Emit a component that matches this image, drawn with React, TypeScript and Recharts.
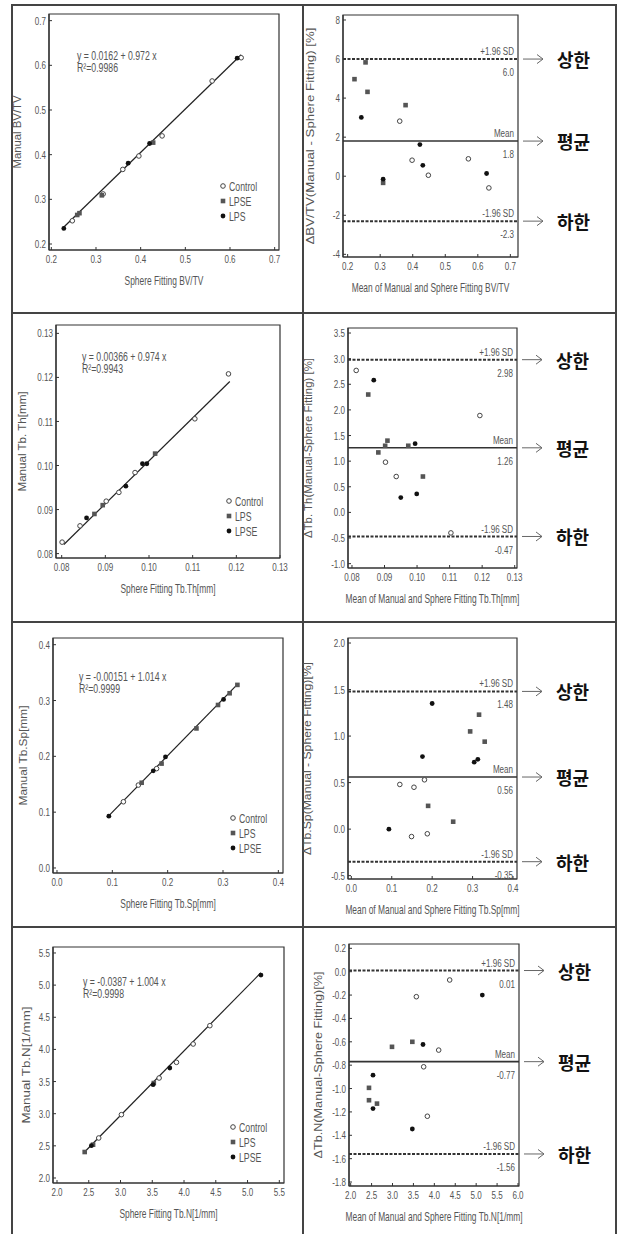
import React from 'react';
import { ScatterChart, Scatter, XAxis, YAxis, ReferenceLine, ReferenceArea, Label } from 'recharts';

type Pt = { x: number; y: number };
type Kind = 'open' | 'square' | 'dot';

const FONT = '"Liberation Sans", Arial, sans-serif';
const KFONT = '"Noto Sans CJK KR", "Noto Sans", sans-serif';
const NARROW = 0.7; // the source figure is squeezed sideways, text looks condensed
const INK = '#333';
const GREY = '#555';

// ---- BV/TV : manual vs sphere fitting
const bvtvControl: Pt[] = [
  { x: 0.247, y: 0.252 }, { x: 0.316, y: 0.312 }, { x: 0.360, y: 0.367 }, { x: 0.396, y: 0.397 },
  { x: 0.448, y: 0.442 }, { x: 0.560, y: 0.565 }, { x: 0.625, y: 0.617 },
];
const bvtvLpse: Pt[] = [{ x: 0.258, y: 0.265 }, { x: 0.263, y: 0.269 }, { x: 0.313, y: 0.309 }, { x: 0.428, y: 0.427 }];
const bvtvLps: Pt[] = [{ x: 0.228, y: 0.235 }, { x: 0.372, y: 0.381 }, { x: 0.420, y: 0.425 }, { x: 0.616, y: 0.616 }];
// Bland-Altman BV/TV
const bvtvDiffControl: Pt[] = [
  { x: 0.360, y: 2.82 }, { x: 0.398, y: 0.82 }, { x: 0.448, y: 0.05 }, { x: 0.571, y: 0.89 }, { x: 0.634, y: -0.6 },
];
const bvtvDiffLpse: Pt[] = [
  { x: 0.221, y: 4.97 }, { x: 0.255, y: 5.83 }, { x: 0.261, y: 4.32 }, { x: 0.378, y: 3.64 }, { x: 0.309, y: -0.34 },
];
const bvtvDiffLps: Pt[] = [
  { x: 0.242, y: 3.01 }, { x: 0.422, y: 1.62 }, { x: 0.431, y: 0.56 }, { x: 0.627, y: 0.14 }, { x: 0.309, y: -0.15 },
];

// ---- Tb.Th
const thControl: Pt[] = [
  { x: 0.0801, y: 0.0826 }, { x: 0.0842, y: 0.0863 }, { x: 0.0902, y: 0.0919 }, { x: 0.0931, y: 0.0939 },
  { x: 0.0968, y: 0.0984 }, { x: 0.1105, y: 0.1106 }, { x: 0.1182, y: 0.1208 },
];
const thLps: Pt[] = [{ x: 0.0875, y: 0.089 }, { x: 0.0894, y: 0.091 }, { x: 0.1014, y: 0.1027 }];
const thLpse: Pt[] = [{ x: 0.0857, y: 0.0881 }, { x: 0.0947, y: 0.0953 }, { x: 0.0985, y: 0.1004 }, { x: 0.0995, y: 0.1004 }];
const thDiffControl: Pt[] = [
  { x: 0.0813, y: 2.77 }, { x: 0.1193, y: 1.89 }, { x: 0.0903, y: 0.98 }, { x: 0.0936, y: 0.7 }, { x: 0.1104, y: -0.4 },
];
const thDiffLps: Pt[] = [
  { x: 0.085, y: 2.3 }, { x: 0.0881, y: 1.17 }, { x: 0.0902, y: 1.3 }, { x: 0.0909, y: 1.4 }, { x: 0.0973, y: 1.3 },
  { x: 0.1018, y: 0.7 },
];
const thDiffLpse: Pt[] = [{ x: 0.0867, y: 2.58 }, { x: 0.0994, y: 1.34 }, { x: 0.095, y: 0.29 }, { x: 0.0999, y: 0.36 }];

// ---- Tb.Sp
const spControl: Pt[] = [{ x: 0.12, y: 0.1186 }, { x: 0.147, y: 0.1485 }, { x: 0.18, y: 0.178 }];
const spLps: Pt[] = [
  { x: 0.153, y: 0.1527 }, { x: 0.189, y: 0.187 }, { x: 0.252, y: 0.25 }, { x: 0.291, y: 0.292 },
  { x: 0.312, y: 0.313 }, { x: 0.326, y: 0.328 },
];
const spLpse: Pt[] = [{ x: 0.0937, y: 0.0928 }, { x: 0.174, y: 0.174 }, { x: 0.196, y: 0.199 }, { x: 0.301, y: 0.302 }];
const spDiffControl: Pt[] = [
  { x: 0.12, y: 0.48 }, { x: 0.155, y: 0.45 }, { x: 0.181, y: 0.53 }, { x: 0.149, y: -0.08 }, { x: 0.188, y: -0.05 },
];
const spDiffLps: Pt[] = [
  { x: 0.316, y: 1.23 }, { x: 0.294, y: 1.05 }, { x: 0.33, y: 0.94 }, { x: 0.19, y: 0.25 }, { x: 0.252, y: 0.08 },
];
const spDiffLpse: Pt[] = [
  { x: 0.2, y: 1.35 }, { x: 0.176, y: 0.78 }, { x: 0.304, y: 0.72 }, { x: 0.313, y: 0.75 }, { x: 0.093, y: 0.0 },
];

// ---- Tb.N
const nControl: Pt[] = [
  { x: 2.657, y: 2.622 }, { x: 3.014, y: 2.985 }, { x: 3.608, y: 3.555 }, { x: 3.881, y: 3.799 },
  { x: 4.144, y: 4.084 }, { x: 4.407, y: 4.369 },
];
const nLps: Pt[] = [{ x: 2.436, y: 2.404 }, { x: 2.568, y: 2.518 }, { x: 3.524, y: 3.477 }];
const nLpse: Pt[] = [{ x: 2.541, y: 2.503 }, { x: 3.513, y: 3.452 }, { x: 3.776, y: 3.711 }, { x: 5.211, y: 5.157 }];
const nDiffControl: Pt[] = [
  { x: 4.367, y: -0.071 }, { x: 3.57, y: -0.214 }, { x: 4.104, y: -0.671 }, { x: 3.745, y: -0.814 }, { x: 3.833, y: -1.237 },
];
const nDiffLps: Pt[] = [
  { x: 2.988, y: -0.643 }, { x: 3.474, y: -0.6 }, { x: 2.438, y: -0.994 }, { x: 2.438, y: -1.1 }, { x: 2.629, y: -1.129 },
];
const nDiffLpse: Pt[] = [
  { x: 5.147, y: -0.2 }, { x: 3.729, y: -0.623 }, { x: 2.534, y: -0.886 }, { x: 2.534, y: -1.171 }, { x: 3.474, y: -1.346 },
];

// tick labels
const bvtvTicks = [0.2, 0.3, 0.4, 0.5, 0.6, 0.7];
const bvtvDiffTicks = [-4, -2, 0, 2, 4, 6, 8];
const thTicks = [0.08, 0.09, 0.1, 0.11, 0.12, 0.13];
const thDiffTicks = [-1, -0.5, 0, 0.5, 1, 1.5, 2, 2.5, 3, 3.5];
const spTicks = [0, 0.1, 0.2, 0.3, 0.4];
const spDiffTicks = [-0.5, 0, 0.5, 1, 1.5, 2];
const nTicks = [2, 2.5, 3, 3.5, 4, 4.5, 5, 5.5];
const nDiffXTicks = [2, 2.5, 3, 3.5, 4, 4.5, 5, 5.5, 6];
const nDiffYTicks = [-1.8, -1.6, -1.4, -1.2, -1, -0.8, -0.6, -0.4, -0.2, 0, 0.2];

// regression fits: intercept, slope, x-range
const bvtvFit = { a: 0.0162, b: 0.972, from: 0.227, to: 0.625, eq: 'y = 0.0162 + 0.972 x', r2: 'R²=0.9986' };
const thFit = { a: 0.00366, b: 0.974, from: 0.0805, to: 0.1185, eq: 'y = 0.00366 + 0.974 x', r2: 'R²=0.9943' };
const spFit = { a: -0.00151, b: 1.014, from: 0.093, to: 0.326, eq: 'y = -0.00151 + 1.014 x', r2: 'R²=0.9999' };
const nFit = { a: -0.0387, b: 1.004, from: 2.43, to: 5.21, eq: 'y = -0.0387 + 1.004 x', r2: 'R²=0.9998' };

// Bland-Altman limits
const bvtvLimits = { upper: 6.0, mean: 1.8, lower: -2.3, upperText: '6.0', meanText: '1.8', lowerText: '-2.3' };
const thLimits = { upper: 2.98, mean: 1.26, lower: -0.47, upperText: '2.98', meanText: '1.26', lowerText: '-0.47' };
const spLimits = { upper: 1.48, mean: 0.56, lower: -0.35, upperText: '1.48', meanText: '0.56', lowerText: '-0.35' };
const nLimits = { upper: 0.01, mean: -0.77, lower: -1.56, upperText: '0.01', meanText: '-0.77', lowerText: '-1.56' };

interface Group { name: string; kind: Kind; data: Pt[] }
interface Fit { a: number; b: number; from: number; to: number; eq: string; r2: string }
interface Limits { upper: number; mean: number; lower: number; upperText: string; meanText: string; lowerText: string }
interface PanelProps {
  frame: { x: number; y: number; w: number; h: number };
  xDomain: [number, number];
  yDomain: [number, number];
  xTicks: number[];
  yTicks: number[];
  xDec: number;
  yDec: number;
  xTitle: string;
  yTitle: string;
  yTitleDx: number;
  yTitleLen: number;
  groups: Group[];
  fit?: Fit;
  eqAt?: [number, number];
  legendAt?: [number, number];
  limits?: Limits;
}

// condensed svg text, scaled around its anchor point
function NText(props: {
  x: number; y: number; anchor?: string; size?: number; baseline?: string; dy?: string; fill?: string; children: React.ReactNode;
}) {
  const { x, y, anchor = 'start', size = 11.5, baseline = 'central', dy, fill = GREY, children } = props;
  return (
    <text
      transform={`translate(${x},${y}) scale(${NARROW},1)`}
      textAnchor={anchor}
      dominantBaseline={baseline}
      dy={dy}
      fontSize={size}
      fill={fill}
      fontFamily={FONT}
    >
      {children}
    </text>
  );
}

function marker(kind: Kind, cx: number, cy: number) {
  if (kind === 'open') return <circle cx={cx} cy={cy} r={2.3} fill="#fff" stroke="#444" strokeWidth={1} />;
  if (kind === 'square') return <rect x={cx - 2.3} y={cy - 2.3} width={4.6} height={4.6} fill="#555" />;
  return <circle cx={cx} cy={cy} r={2.4} fill="#111" />;
}

const limitLabel = (tag: string, val: string, ko: string) => (lp: any) => {
  const vb = lp.viewBox;
  const r = vb.x + vb.width;
  const y = vb.y;
  return (
    <g>
      <NText x={r - 4} y={y - 8} anchor="end">{tag}</NText>
      <NText x={r - 4} y={y + 13} anchor="end">{val}</NText>
      <line x1={r + 5} y1={y} x2={r + 25} y2={y} stroke="#666" strokeWidth={1} />
      <polyline points={`${r + 19},${y - 4.5} ${r + 25},${y} ${r + 19},${y + 4.5}`} fill="none" stroke="#666" strokeWidth={1} />
      <text x={r + 39} y={y} dominantBaseline="central" fontSize={18} fontWeight={700} fill="#111" fontFamily={KFONT}>
        {ko}
      </text>
    </g>
  );
};

function Panel(p: PanelProps) {
  const ML = 55;
  const MT = 10;
  const MB = 45;
  const MR = p.limits ? 80 : 12;
  const W = p.frame.w + ML + MR;
  const H = p.frame.h + MT + MB;

  const frameLabel = (lp: any) => {
    const { x, y, width, height } = lp.viewBox;
    return (
      <g>
        {p.fit && p.eqAt && (
          <NText x={x + p.eqAt[0]} y={y + p.eqAt[1]} size={12.5}>{p.fit.eq}</NText>
        )}
        {p.fit && p.eqAt && (
          <NText x={x + p.eqAt[0]} y={y + p.eqAt[1] + 12} size={12.5}>{p.fit.r2}</NText>
        )}
        {p.legendAt &&
          p.groups.map((g, i) => {
            const mx = x + width - p.legendAt![0];
            const my = y + height - p.legendAt![1] + i * 15;
            return (
              <g key={g.name}>
                {marker(g.kind, mx, my)}
                <NText x={mx + 6} y={my} size={12.5}>{g.name}</NText>
              </g>
            );
          })}
      </g>
    );
  };

  return (
    <div style={{ position: 'absolute', left: p.frame.x - ML, top: p.frame.y - MT, width: W, height: H }}>
      <ScatterChart width={W} height={H} margin={{ top: MT, right: MR, bottom: 0, left: 0 }}>
        <XAxis
          type="number"
          dataKey="x"
          domain={p.xDomain}
          allowDataOverflow
          ticks={p.xTicks}
          interval={0}
          height={MB}
          tickSize={-3}
          tickMargin={8}
          axisLine={{ stroke: INK, strokeWidth: 1.2 }}
          tickLine={{ stroke: INK }}
          tick={(tp: any) => (
            <NText x={tp.x} y={tp.y} anchor="middle" dy="0.71em" baseline="auto">
              {Number(tp.payload.value).toFixed(p.xDec)}
            </NText>
          )}
        >
          <Label
            content={(lp: any) => {
              const vb = lp.viewBox;
              return (
                <NText x={vb.x + vb.width / 2} y={vb.y + 31} anchor="middle" size={12}>
                  {p.xTitle}
                </NText>
              );
            }}
          />
        </XAxis>
        <YAxis
          type="number"
          dataKey="y"
          domain={p.yDomain}
          allowDataOverflow
          ticks={p.yTicks}
          interval={0}
          width={ML}
          tickSize={-3}
          tickMargin={6}
          axisLine={{ stroke: INK, strokeWidth: 1.2 }}
          tickLine={{ stroke: INK }}
          tick={(tp: any) => (
            <NText x={tp.x} y={tp.y} anchor="end">
              {Number(tp.payload.value).toFixed(p.yDec)}
            </NText>
          )}
        >
          <Label
            content={(lp: any) => {
              const vb = lp.viewBox;
              const cx = vb.x + vb.width + p.yTitleDx;
              const cy = vb.y + vb.height / 2;
              return (
                <text
                  transform={`translate(${cx},${cy}) rotate(-90)`}
                  textAnchor="middle"
                  dominantBaseline="central"
                  fontSize={11}
                  fill={GREY}
                  fontFamily={FONT}
                  textLength={p.yTitleLen}
                  lengthAdjust="spacingAndGlyphs"
                >
                  {p.yTitle}
                </text>
              );
            }}
          />
        </YAxis>
        <ReferenceArea
          x1={p.xDomain[0]}
          x2={p.xDomain[1]}
          y1={p.yDomain[0]}
          y2={p.yDomain[1]}
          ifOverflow="visible"
          fill="none"
          stroke={INK}
          strokeWidth={1.2}
          label={frameLabel}
        />
        {p.fit && (
          <ReferenceLine
            segment={[
              { x: p.fit.from, y: p.fit.a + p.fit.b * p.fit.from },
              { x: p.fit.to, y: p.fit.a + p.fit.b * p.fit.to },
            ]}
            stroke="#222"
            strokeWidth={1.2}
          />
        )}
        {p.limits && (
          <ReferenceLine
            y={p.limits.upper}
            stroke="#333"
            strokeWidth={2}
            strokeDasharray="3 1.5"
            label={limitLabel('+1.96 SD', p.limits.upperText, '상한')}
          />
        )}
        {p.limits && (
          <ReferenceLine y={p.limits.mean} stroke="#333" strokeWidth={1.6} label={limitLabel('Mean', p.limits.meanText, '평균')} />
        )}
        {p.limits && (
          <ReferenceLine
            y={p.limits.lower}
            stroke="#333"
            strokeWidth={2}
            strokeDasharray="3 1.5"
            label={limitLabel('-1.96 SD', p.limits.lowerText, '하한')}
          />
        )}
        {p.groups.map((g) => (
          <Scatter
            key={g.name}
            name={g.name}
            data={g.data}
            isAnimationActive={false}
            shape={(sp: any) => marker(g.kind, sp.cx, sp.cy)}
          />
        ))}
      </ScatterChart>
    </div>
  );
}

const line = (style: React.CSSProperties) => <div style={{ position: 'absolute', background: '#444', ...style }} />;

export default function App() {
  return (
    <div style={{ position: 'absolute', left: 0, top: 0, width: 618, height: 1234, background: '#fff', overflow: 'hidden' }}>
      {line({ left: 11, top: 4, width: 606, height: 2 })}
      {line({ left: 11, top: 4, width: 2, height: 1240 })}
      {line({ left: 615, top: 4, width: 2, height: 1240 })}
      {line({ left: 302, top: 4, width: 2, height: 1240 })}
      {line({ left: 11, top: 312, width: 606, height: 2 })}
      {line({ left: 11, top: 621, width: 606, height: 2 })}
      {line({ left: 11, top: 926, width: 606, height: 2 })}

      <Panel
        frame={{ x: 49, y: 14, w: 230, h: 236 }}
        xDomain={[0.1948, 0.7097]}
        yDomain={[0.1866, 0.7149]}
        xTicks={bvtvTicks}
        yTicks={bvtvTicks}
        xDec={1}
        yDec={1}
        xTitle="Sphere Fitting  BV/TV"
        yTitle="Manual BV/TV"
        yTitleDx={-32}
        yTitleLen={73}
        groups={[
          { name: 'Control', kind: 'open', data: bvtvControl },
          { name: 'LPSE', kind: 'square', data: bvtvLpse },
          { name: 'LPS', kind: 'dot', data: bvtvLps },
        ]}
        fit={bvtvFit}
        eqAt={[28, 41]}
        legendAt={[56, 64]}
      />
      <Panel
        frame={{ x: 343, y: 15, w: 175, h: 242 }}
        xDomain={[0.1857, 0.7235]}
        yDomain={[-4.137, 8.256]}
        xTicks={bvtvTicks}
        yTicks={bvtvDiffTicks}
        xDec={1}
        yDec={0}
        xTitle="Mean of Manual and Sphere Fitting BV/TV"
        yTitle="ΔBV/TV(Manual - Sphere Fitting) [%]"
        yTitleDx={-33}
        yTitleLen={217}
        groups={[
          { name: 'Control', kind: 'open', data: bvtvDiffControl },
          { name: 'LPSE', kind: 'square', data: bvtvDiffLpse },
          { name: 'LPS', kind: 'dot', data: bvtvDiffLps },
        ]}
        limits={bvtvLimits}
      />

      <Panel
        frame={{ x: 56, y: 325, w: 224, h: 233 }}
        xDomain={[0.0787, 0.13]}
        yDomain={[0.079, 0.1319]}
        xTicks={thTicks}
        yTicks={thTicks}
        xDec={2}
        yDec={2}
        xTitle="Sphere Fitting Tb.Th[mm]"
        yTitle="Manual Tb. Th[mm]"
        yTitleDx={-34}
        yTitleLen={100}
        groups={[
          { name: 'Control', kind: 'open', data: thControl },
          { name: 'LPS', kind: 'square', data: thLps },
          { name: 'LPSE', kind: 'dot', data: thLpse },
        ]}
        fit={thFit}
        eqAt={[26, 31]}
        legendAt={[51, 57]}
      />
      <Panel
        frame={{ x: 348, y: 328, w: 169, h: 240 }}
        xDomain={[0.07878, 0.13071]}
        yDomain={[-1.085, 3.598]}
        xTicks={thTicks}
        yTicks={thDiffTicks}
        xDec={2}
        yDec={1}
        xTitle="Mean of Manual and Sphere Fitting Tb.Th[mm]"
        yTitle="ΔTb. Th(Manual-Sphere Fitting) [%]"
        yTitleDx={-40}
        yTitleLen={180}
        groups={[
          { name: 'Control', kind: 'open', data: thDiffControl },
          { name: 'LPS', kind: 'square', data: thDiffLps },
          { name: 'LPSE', kind: 'dot', data: thDiffLpse },
        ]}
        limits={thLimits}
      />

      <Panel
        frame={{ x: 53, y: 638, w: 230, h: 235 }}
        xDomain={[-0.0072, 0.4084]}
        yDomain={[-0.009, 0.412]}
        xTicks={spTicks}
        yTicks={spTicks}
        xDec={1}
        yDec={1}
        xTitle="Sphere Fitting Tb.Sp[mm]"
        yTitle="Manual Tb.Sp[mm]"
        yTitleDx={-30}
        yTitleLen={100}
        groups={[
          { name: 'Control', kind: 'open', data: spControl },
          { name: 'LPS', kind: 'square', data: spLps },
          { name: 'LPSE', kind: 'dot', data: spLpse },
        ]}
        fit={spFit}
        eqAt={[26, 38]}
        legendAt={[50, 55]}
      />
      <Panel
        frame={{ x: 348, y: 638, w: 169, h: 241 }}
        xDomain={[-0.0082, 0.4099]}
        yDomain={[-0.536, 2.054]}
        xTicks={spTicks}
        yTicks={spDiffTicks}
        xDec={1}
        yDec={1}
        xTitle="Mean of Manual and Sphere Fitting Tb.Sp[mm]"
        yTitle="ΔTb.Sp(Manual - Sphere Fitting)[%]"
        yTitleDx={-41}
        yTitleLen={193}
        groups={[
          { name: 'Control', kind: 'open', data: spDiffControl },
          { name: 'LPS', kind: 'square', data: spDiffLps },
          { name: 'LPSE', kind: 'dot', data: spDiffLpse },
        ]}
        limits={spLimits}
      />

      <Panel
        frame={{ x: 53, y: 947, w: 231, h: 236 }}
        xDomain={[1.937, 5.574]}
        yDomain={[1.922, 5.593]}
        xTicks={nTicks}
        yTicks={nTicks}
        xDec={1}
        yDec={1}
        xTitle="Sphere Fitting Tb.N[1/mm]"
        yTitle="Manual Tb.N[1/mm]"
        yTitleDx={-27}
        yTitleLen={117}
        groups={[
          { name: 'Control', kind: 'open', data: nControl },
          { name: 'LPS', kind: 'square', data: nLps },
          { name: 'LPSE', kind: 'dot', data: nLpse },
        ]}
        fit={nFit}
        eqAt={[30, 34]}
        legendAt={[51, 56]}
      />
      <Panel
        frame={{ x: 349, y: 944, w: 170, h: 242 }}
        xDomain={[1.96, 6.024]}
        yDomain={[-1.834, 0.237]}
        xTicks={nDiffXTicks}
        yTicks={nDiffYTicks}
        xDec={1}
        yDec={1}
        xTitle="Mean of Manual and Sphere Fitting Tb.N[1/mm]"
        yTitle="ΔTb.N(Manual-Sphere Fitting)[%]"
        yTitleDx={-31}
        yTitleLen={187}
        groups={[
          { name: 'Control', kind: 'open', data: nDiffControl },
          { name: 'LPS', kind: 'square', data: nDiffLps },
          { name: 'LPSE', kind: 'dot', data: nDiffLpse },
        ]}
        limits={nLimits}
      />
    </div>
  );
}
